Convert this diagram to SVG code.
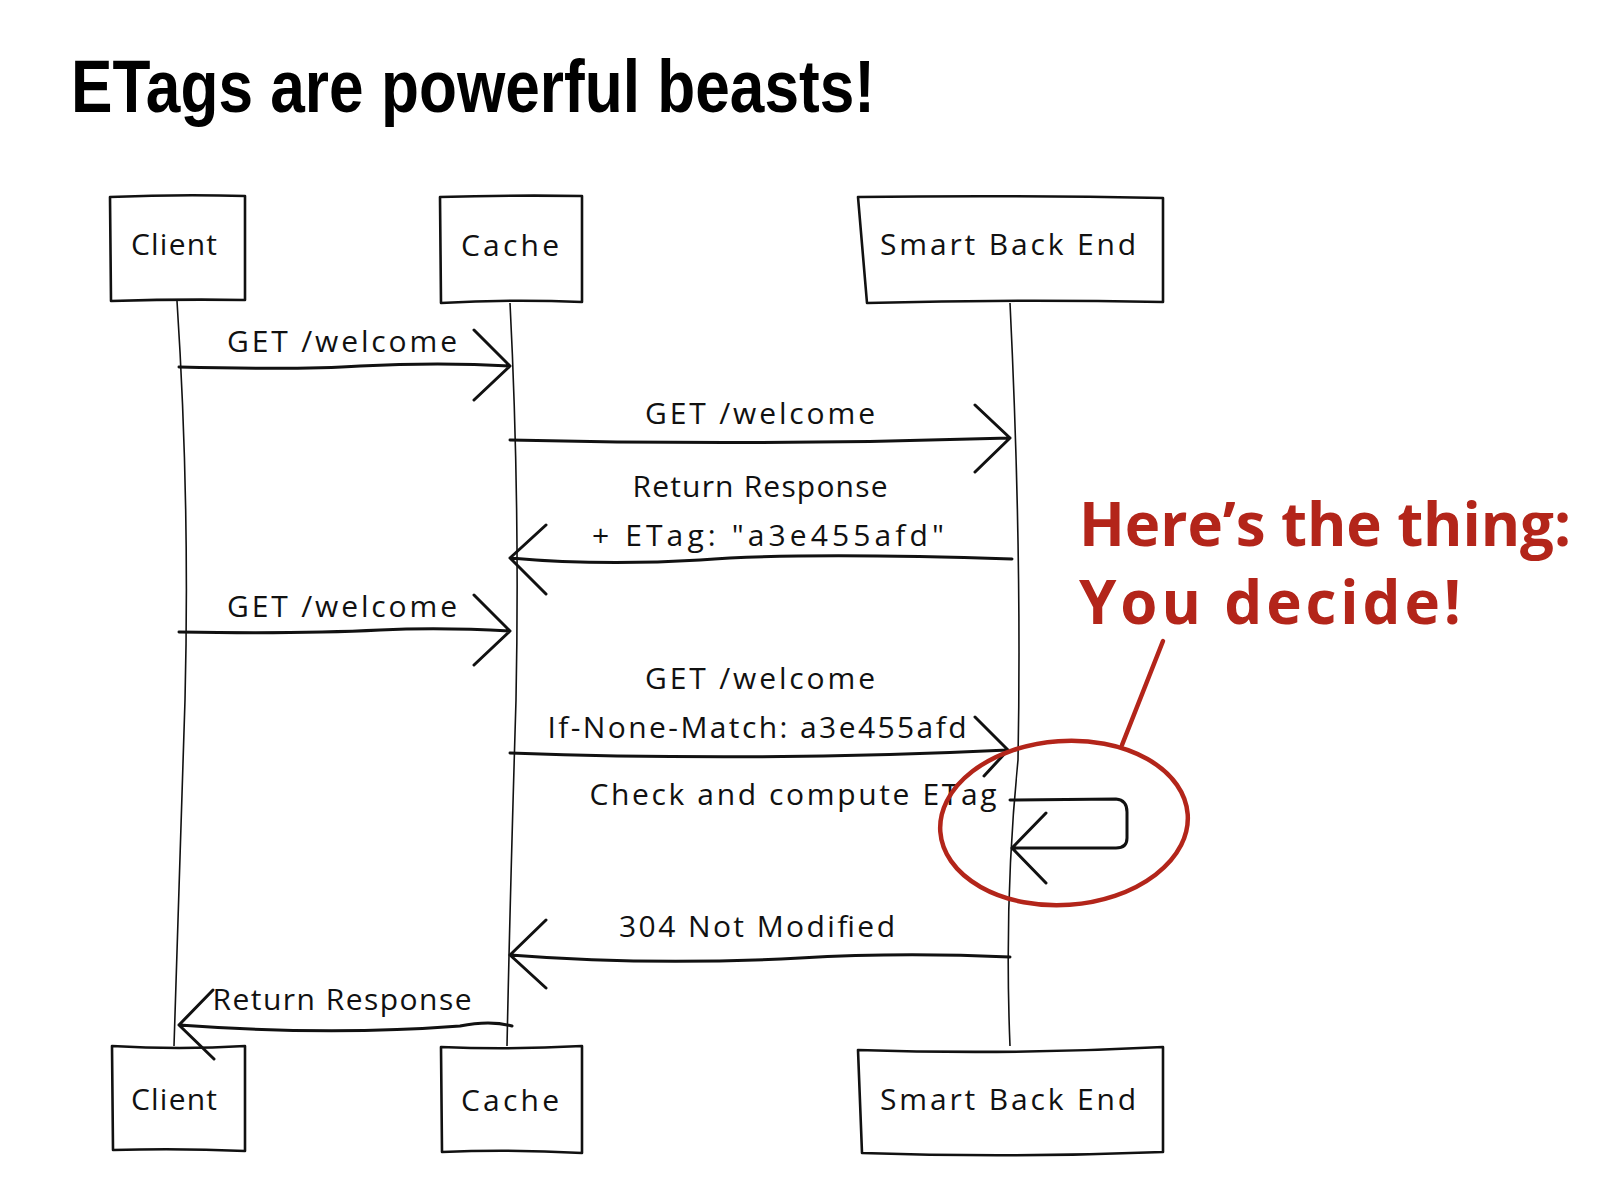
<svg xmlns="http://www.w3.org/2000/svg" width="1600" height="1200" viewBox="0 0 1600 1200">
<style>
.box{fill:none;stroke:#111;stroke-width:2.6;stroke-linejoin:round}
.life{fill:none;stroke:#111;stroke-width:1.6}
.msg{fill:none;stroke:#111;stroke-width:3;stroke-linecap:round;stroke-linejoin:round}
.lbl{font-family:"Open Sans","DejaVu Sans",sans-serif;font-size:30px;fill:#111;text-anchor:middle}
.red{font-family:"Open Sans","DejaVu Sans",sans-serif;font-weight:bold;font-size:60px;fill:#b3251a}
.title{font-family:"Liberation Sans",Arial,sans-serif;font-weight:bold;font-size:74px;fill:#000}
</style>
<rect width="1600" height="1200" fill="#fff"/>
<text class="title" x="71" y="112" textLength="804" lengthAdjust="spacingAndGlyphs">ETags are powerful beasts!</text>

<g id="lifelines">
<path class="life" d="M177,301 Q190,500 185,700 Q178,900 174,1046"/>
<path class="life" d="M510,303 Q520,500 516,700 Q510,900 507,1046"/>
<path class="life" d="M1010,303 Q1022,550 1018,760 Q1004,900 1010,1046"/>
</g>

<g id="client-top"><path class="box" d="M110,197 Q180,194 245,196 L245,300 Q180,299 111,301 Z"/><text class="lbl" x="174" y="255" textLength="86">Client</text></g>
<g id="cache-top"><path class="box" d="M440,197 Q510,195 582,196 L582,302 Q510,299 441,303 Z"/><text class="lbl" x="510" y="256" textLength="98">Cache</text></g>
<g id="backend-top"><path class="box" d="M858,197 Q1010,195 1163,198 L1163,302 Q1010,299 867,303 Z"/><text class="lbl" x="1008" y="255" textLength="256">Smart Back End</text></g>
<g id="client-bottom"><path class="box" d="M112,1046 Q180,1050 245,1046 L245,1151 Q180,1148 113,1150 Z"/><text class="lbl" x="174" y="1110" textLength="86">Client</text></g>
<g id="cache-bottom"><path class="box" d="M441,1047 Q510,1050 582,1046 L582,1153 Q510,1149 442,1152 Z"/><text class="lbl" x="510" y="1111" textLength="98">Cache</text></g>
<g id="backend-bottom"><path class="box" d="M858,1050 Q1010,1055 1163,1047 L1163,1152 Q1010,1158 862,1153 Z"/><text class="lbl" x="1008" y="1110" textLength="256">Smart Back End</text></g>

<g id="connectors">
<path class="msg" d="M179,367 Q300,370 360,366 Q440,362 510,366 M474,330 L510,366 L474,400"/>
<text class="lbl" x="342" y="352" textLength="230">GET /welcome</text>

<path class="msg" d="M510,440 Q760,446 1010,438 M975,405 L1010,438 L975,472"/>
<text class="lbl" x="760" y="424" textLength="230">GET /welcome</text>

<path class="msg" d="M1012,559 Q800,552 700,560 Q600,566 510,558 M546,525 L510,558 L546,594"/>
<text class="lbl" x="760" y="497" textLength="255">Return Response</text>
<text class="lbl" x="768" y="546" textLength="352">+ ETag: "a3e455afd"</text>

<path class="msg" d="M179,632 Q300,634 380,630 Q440,627 510,631 M474,595 L510,631 L474,665"/>
<text class="lbl" x="342" y="617" textLength="230">GET /welcome</text>

<path class="msg" d="M510,753 Q760,762 1008,750 M975,717 L1008,750 L984,776"/>
<text class="lbl" x="760" y="689" textLength="230">GET /welcome</text>
<text class="lbl" x="757" y="738" textLength="419">If-None-Match: a3e455afd</text>

<path class="msg" d="M1010,800 L1116,799 Q1127,800 1127,812 L1127,838 Q1127,848 1116,848 L1012,848 M1046,813 L1012,848 L1046,883"/>
<text class="lbl" x="793" y="805" textLength="407">Check and compute ETag</text>

<path class="msg" d="M1010,957 Q900,952 800,958 Q650,966 510,955 M546,920 L510,955 L546,988"/>
<text class="lbl" x="757" y="937" textLength="276">304 Not Modified</text>

<path class="msg" d="M512,1026 Q490,1020 460,1026 Q330,1036 179,1025 M213,990 L179,1025 L214,1059"/>
<text class="lbl" x="342" y="1010" textLength="259">Return Response</text>
</g>

<g id="annotation">
<text class="red" x="1079" y="546" textLength="492">Here’s the thing:</text>
<text class="red" x="1079" y="624" textLength="382">You decide!</text>
<ellipse cx="1064" cy="823" rx="124" ry="82" transform="rotate(-4 1064 823)" fill="none" stroke="#b3251a" stroke-width="4.5"/>
<path d="M1163,641 L1122,745" fill="none" stroke="#b3251a" stroke-width="4.5" stroke-linecap="round"/>
</g>
</svg>
